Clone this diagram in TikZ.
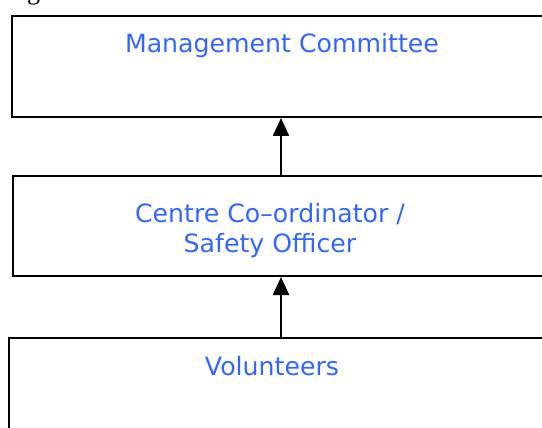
\documentclass[tikz,border=0pt]{standalone}
\usepackage{fontspec}
\setmainfont{DejaVu Sans}
\newfontfamily\serifpart{Liberation Serif}
\usetikzlibrary{arrows.meta}
\definecolor{lblblue}{RGB}{51,102,255}
\tikzset{
  box/.style={draw=black, line width=2pt, rectangle, inner sep=0pt, anchor=north west},
  lbl/.style={text=lblblue, font=\fontsize{25.2}{31}\selectfont, align=center, inner sep=0pt, anchor=base},
  uparrow/.style={draw=black, line width=2.3pt, -{Triangle[length=18pt,width=16pt]}},
}
\begin{document}
\begin{tikzpicture}[x=1pt,y=1pt]
\useasboundingbox (0,0) rectangle (542,-428);
% fragment of heading above
\node[inner sep=0pt, anchor=base west, font=\serifpart\fontsize{26}{26}\selectfont] (frag) at (27,0.5) {g};
% boxes
\node[box, minimum width=560pt, minimum height=101pt] (mc) at (11,-15) {};
\node[box, minimum width=560pt, minimum height=100pt] (cc) at (12,-175) {};
\node[box, minimum width=560pt, minimum height=100pt] (vol) at (8,-337) {};
% labels
\node[lbl] (mcl) at (282,-53) {Management Committee};
\node[lbl] (ccl) at (270,-253) {Centre Co–ordinator /\\Safety Officer};
\node[lbl] (voll) at (272,-375) {Volunteers};
% connectors
\coordinate (a1) at (281,0);
\coordinate (a2) at (281,0);
\draw[uparrow] (cc.north -| a1) -- (mc.south -| a1);
\draw[uparrow] (vol.north -| a2) -- (cc.south -| a2);
\end{tikzpicture}
\end{document}
